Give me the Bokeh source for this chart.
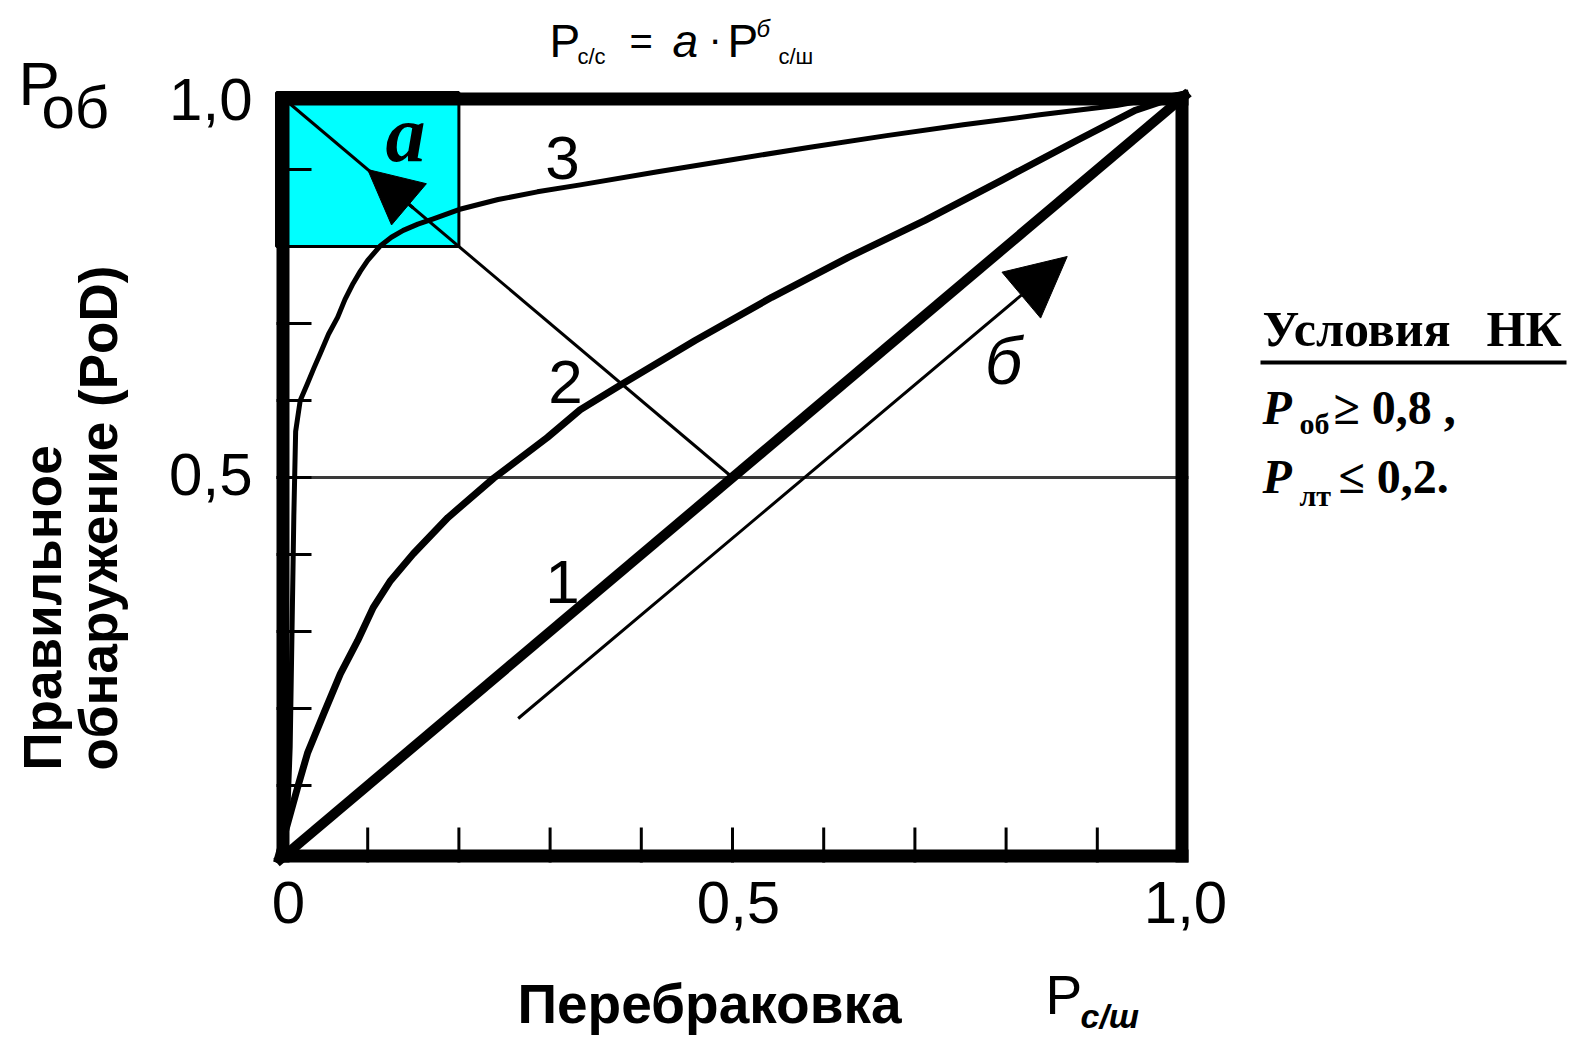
from bokeh.plotting import figure
from bokeh.models import Range1d, Arrow, NormalHead
from bokeh.core.properties import value
from bokeh.embed import file_html
from bokeh.resources import INLINE

# ---------------- data ----------------
minor_ticks = [0.1, 0.2, 0.3, 0.4, 0.5, 0.6, 0.7, 0.8, 0.9]
major_ticks = [0.0, 0.5, 1.0]
x_tick_labels = ["0", "0,5", "1,0"]
y_tick_labels = ["", "0,5", "1,0"]

# 1: random guessing line
line1_x = [0.0, 1.0]
line1_y = [0.0, 1.0]

# 2: moderate detector
curve2_x = [0.000, 0.012, 0.023, 0.034, 0.052, 0.070, 0.089, 0.106, 0.125, 0.150,
            0.188, 0.238, 0.297, 0.333, 0.380, 0.459, 0.543, 0.627, 0.711, 0.795,
            0.878, 0.942, 1.000]
curve2_y = [0.000, 0.050, 0.097, 0.142, 0.194, 0.245, 0.288, 0.331, 0.366, 0.401,
            0.448, 0.499, 0.552, 0.588, 0.622, 0.678, 0.734, 0.786, 0.834, 0.886,
            0.938, 0.977, 1.000]

# 3: good detector
curve3_x = [0.000, 0.012, 0.015, 0.017, 0.019, 0.021, 0.026, 0.034, 0.041, 0.048,
            0.057, 0.067, 0.075, 0.084, 0.092, 0.100, 0.114, 0.126, 0.139, 0.155,
            0.172, 0.200, 0.243, 0.286, 0.333, 0.418, 0.501, 0.585, 0.669, 0.753,
            0.837, 0.921, 1.000]
curve3_y = [0.000, 0.050, 0.150, 0.300, 0.450, 0.560, 0.600, 0.622, 0.642, 0.661,
            0.686, 0.708, 0.731, 0.752, 0.768, 0.782, 0.801, 0.812, 0.821, 0.829,
            0.836, 0.848, 0.861, 0.871, 0.880, 0.897, 0.913, 0.929, 0.944, 0.958,
            0.971, 0.983, 1.000]

threshold_x = [0.0, 1.0]
threshold_y = [0.5, 0.5]

# direction "а": from (0,1) down to the diagonal
path_a_x = [0.0, 0.5]
path_a_y = [1.0, 0.5]
arrow_a_x = [0.15, 0.10]
arrow_a_y = [0.85, 0.90]

# direction "б": parallel to the diagonal
path_b_x = [0.265, 0.867]
path_b_y = [0.187, 0.787]

# acceptable region: P_лт <= 0.2, P_об >= 0.8
zone_x = [0.0, 0.2]
zone_y = [0.8, 1.0]

# ---------------- layout (pixels) ----------------
W, H = 1575, 1038
BOX_L, BOX_R, BOX_T, BOX_B = 276, 1188, 92, 862
FRAME_PX = 13
TICK_PX = 35
# the text glyph sits its alphabetic line lower by this fraction of the size
BASE_SHIFT = 0.38


def sx(px):
    return (px - BOX_L) / (BOX_R - BOX_L)


def sy(py):
    return (BOX_B - py) / (BOX_B - BOX_T)


p = figure(width=W, height=H,
           x_range=Range1d(sx(0), sx(W)), y_range=Range1d(sy(H), sy(0)),
           x_axis_type=None, y_axis_type=None, min_border=0,
           toolbar_location=None, output_backend="svg",
           outline_line_color=None,
           background_fill_color="white", border_fill_color="white")
p.grid.visible = False

SANS = value("Liberation Sans")
SERIF = value("Liberation Serif")


def put(text, px, py, size, font=SANS, style="normal", align="left",
        angle=0, color="black"):
    """Place a text with its baseline at pixel (px, py)."""
    if angle == 90:
        px = px - BASE_SHIFT * size
    else:
        py = py - BASE_SHIFT * size
    p.text(x=[sx(px)], y=[sy(py)], text=[text], angle=angle, angle_units="deg",
           text_font=font, text_font_style=style, text_font_size=f"{size}px",
           text_align=align, text_baseline="alphabetic", text_color=color)


# acceptable zone
p.quad(left=[zone_x[0]], right=[zone_x[1]], bottom=[zone_y[0]], top=[zone_y[1]],
       fill_color="#00FFFF", line_color="black", line_width=3)

# reference lines
p.line(threshold_x, threshold_y, line_width=3, line_color="#3a3a3a")
p.line(path_a_x, path_a_y, line_width=3, line_color="black")

# characteristic curves
p.line(curve3_x, curve3_y, line_width=5, line_color="black", line_join="round")
p.line(curve2_x, curve2_y, line_width=7, line_color="black", line_join="round")
p.line(line1_x, line1_y, line_width=10, line_color="black")

# direction arrows
p.add_layout(Arrow(end=NormalHead(size=54, fill_color="black", line_color="black"),
                   x_start=arrow_a_x[0], y_start=arrow_a_y[0],
                   x_end=arrow_a_x[1], y_end=arrow_a_y[1],
                   line_width=3, line_color="black"))
p.add_layout(Arrow(end=NormalHead(size=60, fill_color="black", line_color="black"),
                   x_start=path_b_x[0], y_start=path_b_y[0],
                   x_end=path_b_x[1], y_end=path_b_y[1],
                   line_width=3, line_color="black"))

# heavy frame
tx = FRAME_PX / (BOX_R - BOX_L)
ty = FRAME_PX / (BOX_B - BOX_T)
p.quad(left=[0, 1 - tx, 0, 0], right=[tx, 1, 1, 1],
       bottom=[0, 0, 0, 1 - ty], top=[1, 1, ty, 1],
       fill_color="black", line_color=None)

# inward ticks
tlx = TICK_PX / (BOX_R - BOX_L)
tly = TICK_PX / (BOX_B - BOX_T)
n = len(minor_ticks)
p.segment(x0=minor_ticks, y0=[0] * n, x1=minor_ticks, y1=[tly] * n,
          line_width=3, line_color="black")
p.segment(x0=[0] * n, y0=minor_ticks, x1=[tlx] * n, y1=minor_ticks,
          line_width=3, line_color="black")

# tick labels
TICK_FONT = 60
lift = BASE_SHIFT * TICK_FONT
p.text(x=major_ticks, y=[0] * 3, text=x_tick_labels,
       x_offset=[12, 6, -3], y_offset=63 - lift,
       text_font=SANS, text_font_size=f"{TICK_FONT}px", text_align="center",
       text_baseline="alphabetic", text_color="black")
p.text(x=[0] * 3, y=major_ticks, text=y_tick_labels,
       x_offset=-24, y_offset=[0, 20 - lift, 30 - lift],
       text_font=SANS, text_font_size=f"{TICK_FONT}px", text_align="right",
       text_baseline="alphabetic", text_color="black")

# curve / direction labels
put("3", 562, 181, 62, align="center")
put("2", 565, 405, 62, align="center")
put("1", 562, 605, 62, align="center")
put("a", 405, 164, 80, font=SERIF, style="bold italic", align="center")
put("б", 1003, 386, 66, style="italic", align="center")

# formula above the frame
put("P", 549, 58, 46)
put("с/с", 577, 64, 22)
put("=", 629, 56, 40)
put("a", 672, 58, 46, style="italic")
put("·", 708, 54, 40)
put("P", 727, 58, 46)
put("б", 756, 37, 24, style="italic")
put("с/ш", 778, 64, 22)

# y axis caption
put("P", 18, 107, 62)
put("об", 41, 130, 60)
put("Правильное", 62, 770, 53, style="bold", angle=90)
put("обнаружение (PoD)", 118, 770, 53, style="bold", angle=90)

# x axis caption
put("Перебраковка", 517, 1024, 55, style="bold")
put("P", 1045, 1015, 55)
put("с/ш", 1080, 1028, 34, style="bold italic")

# inspection conditions
put("Условия", 1262, 347, 50, font=SERIF, style="bold")
put("НК", 1486, 347, 50, font=SERIF, style="bold")
p.segment(x0=[sx(1260)], y0=[sy(362)], x1=[sx(1566)], y1=[sy(362)],
          line_width=4, line_color="black")
put("P", 1262, 425, 48, font=SERIF, style="bold italic")
put("об", 1299, 434, 30, font=SERIF, style="bold")
put("≥ 0,8 ,", 1333, 425, 48, font=SERIF, style="bold")
put("P", 1262, 494, 48, font=SERIF, style="bold italic")
put("лт", 1299, 506, 30, font=SERIF, style="bold")
put("≤ 0,2.", 1338, 494, 48, font=SERIF, style="bold")

open("out.html", "w").write(file_html(p, INLINE))
